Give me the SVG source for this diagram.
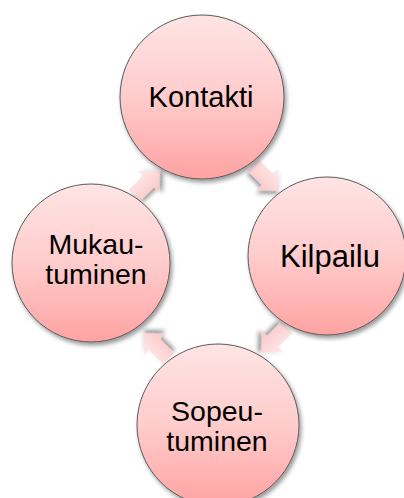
<svg xmlns="http://www.w3.org/2000/svg" width="404" height="498" viewBox="0 0 404 498">
<defs>
  <linearGradient id="gNode" x1="0" y1="0" x2="0" y2="1">
    <stop offset="0" stop-color="#ffe4e4"/>
    <stop offset="0.5" stop-color="#ffcccc"/>
    <stop offset="1" stop-color="#ffa2a2"/>
  </linearGradient>
  <linearGradient id="gArrow" x1="0" y1="0" x2="0" y2="1">
    <stop offset="0" stop-color="#feeaea"/>
    <stop offset="1" stop-color="#fac6c6"/>
  </linearGradient>
  <filter id="shadow" x="-20%" y="-20%" width="150%" height="150%">
    <feDropShadow dx="2" dy="3" stdDeviation="2" flood-color="#000" flood-opacity="0.4"/>
  </filter>
  <path id="arrow" d="M-18,-8 L2,-8 L2,-15 L18,0 L2,15 L2,8 L-18,8 Z"/>
</defs>
<style>
  .node circle { fill: url(#gNode); stroke: #5a5a5a; stroke-width: 1; filter: url(#shadow); }
  .node text { font-family: "Liberation Sans", Arial, sans-serif; font-size: 28.5px; fill: #000; text-anchor: middle; }
  .conn use { fill: url(#gArrow); filter: url(#shadow); }
</style>
<g id="connectors" class="conn">
  <use href="#arrow" transform="translate(266,178) rotate(45)"/>
  <use href="#arrow" transform="translate(274,340) rotate(135)"/>
  <use href="#arrow" transform="translate(156,346) rotate(225)"/>
  <use href="#arrow" transform="translate(147,183) rotate(315)"/>
</g>
<g id="node-kontakti" class="node">
  <circle cx="202" cy="97" r="82"/>
  <text x="201" y="107" style="font-size:29px">Kontakti</text>
</g>
<g id="node-kilpailu" class="node">
  <circle cx="327" cy="256" r="79"/>
  <text x="330" y="267" style="font-size:31px">Kilpailu</text>
</g>
<g id="node-sopeutuminen" class="node">
  <circle cx="218" cy="425" r="81"/>
  <text x="217" y="421">Sopeu-</text>
  <text x="217" y="451">tuminen</text>
</g>
<g id="node-mukautuminen" class="node">
  <circle cx="91" cy="263" r="79"/>
  <text x="96" y="254">Mukau-</text>
  <text x="96" y="284">tuminen</text>
</g>
</svg>
